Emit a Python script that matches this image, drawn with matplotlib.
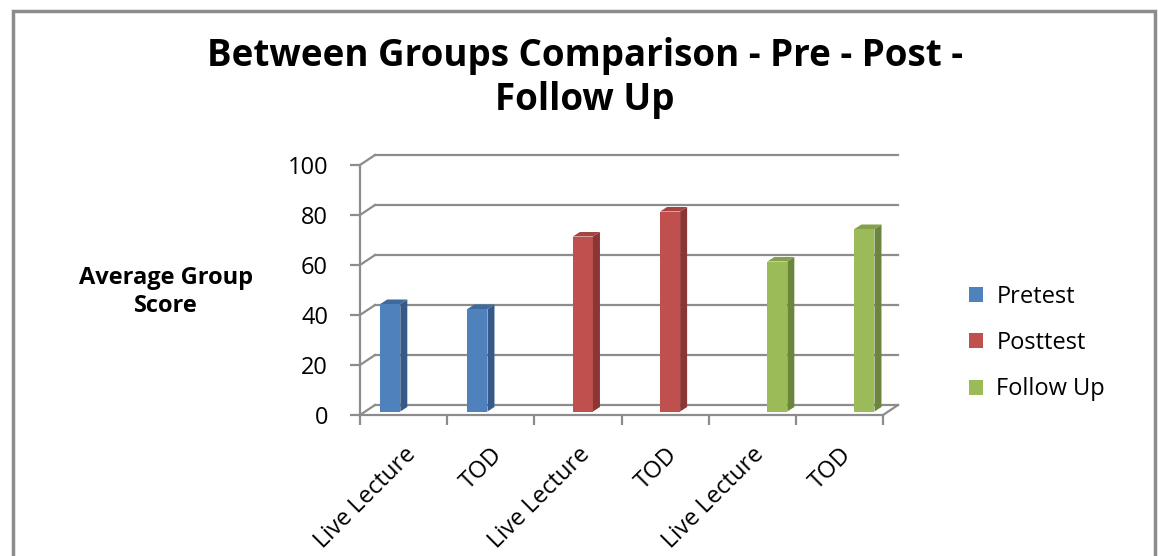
# between groups comparison chart (excel style 3d column look)
import numpy as np
import matplotlib
matplotlib.use('Agg')
import matplotlib.pyplot as plt
from matplotlib import transforms
from matplotlib.patches import Polygon, Rectangle
from matplotlib.lines import Line2D

categories = ['Live Lecture', 'TOD', 'Live Lecture', 'TOD', 'Live Lecture', 'TOD']
series_names = ['Pretest', 'Posttest', 'Follow Up']
pretest = [43, 41, np.nan, np.nan, np.nan, np.nan]
posttest = [np.nan, np.nan, 70, 80, np.nan, np.nan]
follow_up = [np.nan, np.nan, np.nan, np.nan, 60, 73]
y_ticks = [0, 20, 40, 60, 80, 100]

face_colors = ['#4F81BD', '#C0504D', '#9BBB59']
side_colors = ['#36598A', '#8A3634', '#6C853C']
top_colors = ['#3F6A9E', '#A54441', '#84A04A']
grid_color = '#8C8C8C'

plt.rcParams['font.family'] = ['Open Sans', 'DejaVu Sans']

W, H = 1158, 556
fig = plt.figure(figsize=(W / 100, H / 100), dpi=100)
# front plane of the plot area
ax = fig.add_axes([360 / W, 1 - 415 / H, 523 / W, 250 / H])
ax.set_xlim(0, len(categories))
ax.set_ylim(0, 100)
ax.patch.set_alpha(0)

# depth of the 3d box, in pixels
depth_x, depth_y = 15, 10
back = transforms.offset_copy(ax.transData, fig=fig, x=depth_x, y=depth_y, units='dots')
mid = transforms.offset_copy(ax.transData, fig=fig, x=5, y=3.5, units='dots')

# back wall gridlines + diagonals from the front axis
for yv in y_ticks:
    ax.plot([0, len(categories)], [yv, yv], transform=back, color=grid_color, lw=1.6, clip_on=False, zorder=1)
    x0, y0 = ax.transData.transform((0, yv))
    fig.add_artist(Line2D([x0, x0 + depth_x], [y0, y0 + depth_y], transform=None, color=grid_color, lw=1.6, zorder=1))
xr, yr = ax.transData.transform((len(categories), 0))
fig.add_artist(Line2D([xr, xr + depth_x], [yr, yr + depth_y], transform=None, color=grid_color, lw=1.6, zorder=1))

centers = np.arange(len(categories)) + 0.5
offsets = [-0.21, 0.0, 0.23]
bar_w = 0.23
all_series = [pretest, posttest, follow_up]
for i, vals in enumerate(all_series):
    bars = ax.bar(centers + offsets[i], vals, width=bar_w, color=face_colors[i], label=series_names[i],
                  transform=mid, zorder=3, clip_on=False)
    for rect, v in zip(bars.patches, vals):
        if np.isnan(v):
            continue
        bb = rect.get_window_extent()
        dx, dy = 7, 4.5
        side = [(bb.x1, bb.y0), (bb.x1 + dx, bb.y0 + dy), (bb.x1 + dx, bb.y1 + dy), (bb.x1, bb.y1)]
        top = [(bb.x0, bb.y1), (bb.x0 + dx, bb.y1 + dy), (bb.x1 + dx, bb.y1 + dy), (bb.x1, bb.y1)]
        fig.add_artist(Polygon(side, closed=True, transform=None, fc=side_colors[i], ec='none', zorder=4))
        fig.add_artist(Polygon(top, closed=True, transform=None, fc=top_colors[i], ec='none', zorder=4))

# axes lines and ticks
for s in ['top', 'right']:
    ax.spines[s].set_visible(False)
for s in ['left', 'bottom']:
    ax.spines[s].set_color(grid_color)
    ax.spines[s].set_linewidth(1.6)
ax.set_yticks(y_ticks)
ax.set_yticklabels([str(t) for t in y_ticks], fontsize=17)
ax.tick_params(axis='y', length=7, width=1.6, color=grid_color, pad=16)
ax.set_xticks(np.arange(len(categories) + 1))
ax.set_xticklabels([''] * (len(categories) + 1))
ax.tick_params(axis='x', length=7, width=1.6, color=grid_color)
ax.set_xticks(centers, minor=True)
ax.set_xticklabels(categories, minor=True, rotation=45, ha='right', va='top', rotation_mode='anchor', fontsize=17)
ax.tick_params(axis='x', which='minor', length=0, pad=20)

fig.text(585 / W, 1 - 78 / H, 'Between Groups Comparison - Pre - Post -\nFollow Up', ha='center', va='center',
         fontsize=26.5, fontweight='bold', linespacing=1.2)
fig.text(166 / W, 1 - 292 / H, 'Average Group\nScore', ha='center', va='center', fontsize=17,
         fontweight='bold', linespacing=1.25)

fig.legend(loc='center left', bbox_to_anchor=(948 / W, 1 - 343 / H), frameon=False, fontsize=17,
           handlelength=0.6, handleheight=0.6, handletextpad=0.55, labelspacing=0.95)

fig.add_artist(Rectangle((13 / W, -0.05), (1155 - 13) / W, 1.05 - 11 / H, transform=fig.transFigure,
                         fill=False, ec=grid_color, lw=2.5))

fig.savefig('out.png', dpi=100)
